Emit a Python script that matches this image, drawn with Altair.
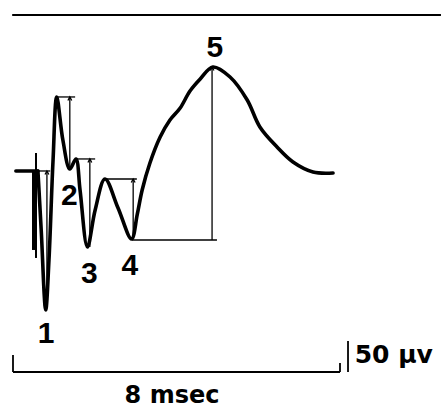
import altair as alt
import pandas as pd

# ---- waveform (time in msec, amplitude in µV) ----
base_t = [0.07, 0.61]
base_v = [0.0, 0.0]
wave_t = [0.61, 0.69, 0.80, 0.88, 0.98, 1.07, 1.22, 1.39, 1.54, 1.64, 1.82,
          2.01, 2.25, 2.57, 2.90, 3.04, 3.16, 3.35, 3.60, 3.84, 4.09, 4.33, 4.58, 4.89,
          5.31, 5.73, 6.04, 6.46, 6.85, 7.34, 7.83]
wave_v = [0.0, -95.2, -224.2, -143.5, 17.7, 119.4, 50.0, 3.2, 19.4, -30.6, -122.6,
          -62.9, -12.9, -59.7, -109.7, -70.0, -30.6, 12.9, 54.8, 82.3, 101.6, 129.0, 148.4, 167.7,
          151.6, 114.5, 71.0, 38.7, 14.5, -1.6, -3.2]

# stimulus artifact
art_t = [0.526, 0.563]
art_v1 = [0.0, 29.0]
art_v2 = [-127.4, -140.3]
art_w = [5.0, 2.0]

# measurement lines (wave 1..5): horizontal reference + vertical arrow
h_t1 = [0.49, 1.08, 1.54, 2.25, 2.91]
h_t2 = [0.91, 1.52, 2.01, 3.03, 4.99]
h_v = [0.0, 119.4, 19.4, -12.9, -111.3]
a_t = [0.83, 1.39, 1.88, 2.94, 4.87]
a_top = [0.0, 119.4, 19.4, -12.9, 167.7]
a_bot = [-208.0, 3.2, -122.6, -108.0, -111.3]

# wave labels
lab_txt = ["1", "2", "3", "4", "5"]
lab_t = [0.81, 1.38, 1.87, 2.86, 4.94]
lab_v = [-277.4, -54.8, -180.6, -167.7, 183.9]

# calibration bars
bar_msec = 8
bar_uv = 50
bar_base = -324.2

X_DOM = [-0.318, 10.471]
Y_DOM = [-382.3, 275.8]

xs = alt.Scale(domain=X_DOM, nice=False, zero=False)
ys = alt.Scale(domain=Y_DOM, nice=False, zero=False)


def X(f="t"):
    return alt.X(f, type="quantitative", scale=xs, axis=None)


def Y(f="v"):
    return alt.Y(f, type="quantitative", scale=ys, axis=None)


wave_df = pd.DataFrame({"t": wave_t, "v": wave_v, "o": range(len(wave_t))})
wave = alt.Chart(wave_df).mark_line(
    color="black", strokeWidth=3.6, interpolate="catmull-rom", strokeJoin="round", strokeCap="round"
).encode(x=X(), y=Y(), order="o:Q")

base_df = pd.DataFrame({"t": base_t, "v": base_v})
baseline = alt.Chart(base_df).mark_line(
    color="black", strokeWidth=3.6, strokeCap="round"
).encode(x=X(), y=Y())

art_df = pd.DataFrame({"t": art_t, "v": art_v1, "v2": art_v2, "w": art_w})
artifact = alt.Chart(art_df).mark_rule(color="black").encode(
    x=X(), y=Y(), y2="v2:Q",
    strokeWidth=alt.StrokeWidth("w:Q", scale=None, legend=None),
)

segs = []
for i in range(5):
    segs.append({"t": h_t1[i], "t2": h_t2[i], "v": h_v[i], "v2": h_v[i]})
    segs.append({"t": a_t[i], "t2": a_t[i], "v": a_top[i], "v2": a_bot[i]})
# top border line
segs.append({"t": -0.02, "t2": 10.47, "v": 251.6, "v2": 251.6})
seg_df = pd.DataFrame(segs)
seg_df["w"] = [1.3] * 10 + [2.2]
measure = alt.Chart(seg_df).mark_rule(color="black").encode(
    x=X(), x2="t2:Q", y=Y(), y2="v2:Q",
    strokeWidth=alt.StrokeWidth("w:Q", scale=None, legend=None),
)

arrow_df = pd.DataFrame({"t": a_t, "v": a_top})
arrows = alt.Chart(arrow_df).mark_point(
    shape="M-0.55,1L0,0L0.55,1", size=49, color="black", filled=False, strokeWidth=1.3, opacity=1
).encode(x=X(), y=Y())

lab_df = pd.DataFrame({"txt": lab_txt, "t": lab_t, "v": lab_v})
labels = alt.Chart(lab_df).mark_text(
    font="Liberation Sans", fontSize=30, fontWeight="bold", baseline="alphabetic", align="center", color="black"
).encode(x=X(), y=Y(), text="txt:N")

# calibration bars
cal_df = pd.DataFrame({
    "t": [0, 0, bar_msec, bar_msec + 0.196],
    "t2": [bar_msec, 0, bar_msec, bar_msec + 0.196],
    "v": [bar_base, bar_base + 27.4, bar_base + 14.5, bar_base + bar_uv],
    "v2": [bar_base, bar_base, bar_base, bar_base],
})
cal = alt.Chart(cal_df).mark_rule(color="black", strokeWidth=1.8).encode(
    x=X(), x2="t2:Q", y=Y(), y2="v2:Q"
)

cal_txt_df = pd.DataFrame({
    "txt": [f"{bar_uv} µv", f"{bar_msec} msec"],
    "t": [8.36, 3.89],
    "v": [-309.7, -374.2],
})
cal_txt1 = alt.Chart(cal_txt_df.iloc[[0]]).mark_text(
    font="DejaVu Sans", fontSize=25, fontWeight="bold", baseline="alphabetic", align="left", color="black"
).encode(x=X(), y=Y(), text="txt:N")
cal_txt2 = alt.Chart(cal_txt_df.iloc[[1]]).mark_text(
    font="DejaVu Sans", fontSize=24, fontWeight="bold", baseline="alphabetic", align="center", color="black"
).encode(x=X(), y=Y(), text="txt:N")

chart = alt.layer(measure, arrows, artifact, baseline, wave, cal, labels, cal_txt1, cal_txt2).properties(
    width=441, height=408, padding=0, autosize=alt.AutoSizeParams(type="none"), background="white"
).configure_view(stroke=None)

chart.save("out.html", embed_options={"renderer": "svg", "actions": False})
